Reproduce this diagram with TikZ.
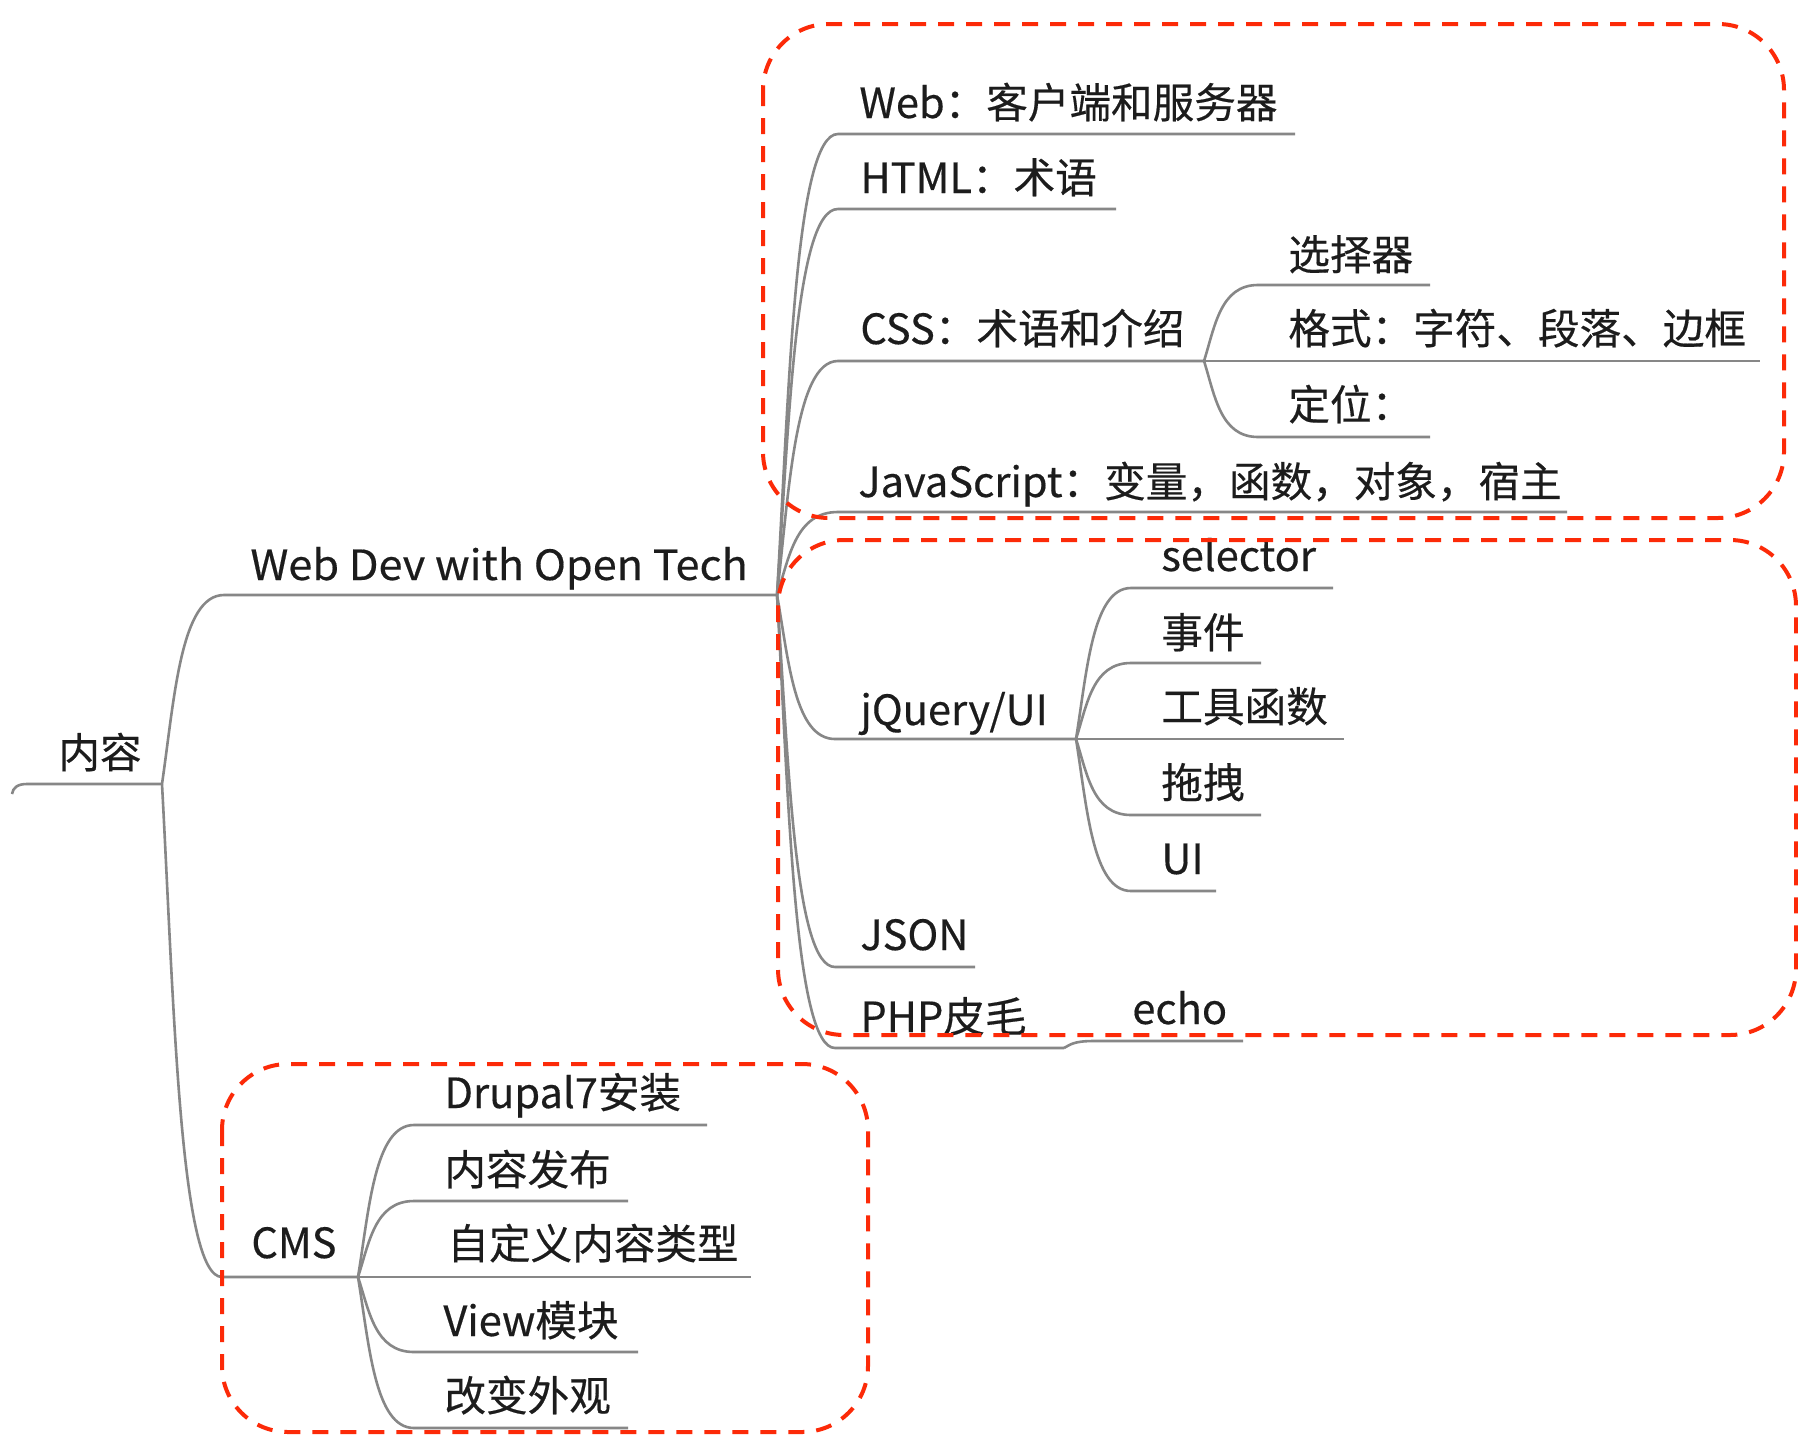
\documentclass[tikz,border=0pt]{standalone}
\usepackage{fontspec}
\setmainfont{Noto Sans CJK SC}[RawFeature={embolden=0.4}]
\usetikzlibrary{calc}
\definecolor{dashred}{RGB}{252,42,8}
\definecolor{linegray}{RGB}{135,135,135}
\definecolor{txtc}{RGB}{28,28,28}
\newcommand\brch[3]{\draw[branch] let \p1=(#1),\p2=(#2) in (\p1) .. controls ({\x1+0.2*(\x2-\x1)},{\y1+0.45*(\y2-\y1)}) and ({\x1+0.3*(\x2-\x1)},{\y2}) .. (\p2) -- (#3);}
\begin{document}
\begin{tikzpicture}[x=0.5pt,y=-0.5pt,
  branch/.style={draw=linegray, line width=1.3pt},
  txt/.style={anchor=base west, inner sep=0pt, text=txtc, font=\fontsize{20.8pt}{24pt}\selectfont},
  grp/.style={draw=dashred, line width=2pt, dash pattern=on 8pt off 6pt, rounded corners=33pt}]
\fill[white] (0,0) rectangle (1798,1440);
\useasboundingbox (0,0) rectangle (1798,1440);

% joints
\coordinate (j0) at (162,784);
\coordinate (j1) at (777,595);
\coordinate (j2) at (1204,361);
\coordinate (j3) at (1076,739);
\coordinate (j4) at (1064,1048);
\coordinate (j5) at (358,1277);

% line start / end points
\coordinate (rootA) at (12,794);
\coordinate (wdS) at (224,595);
\coordinate (cmsS) at (222,1277);
\coordinate (webS) at (838,134);   \coordinate (webE) at (1295,134);
\coordinate (htmlS) at (838,209);  \coordinate (htmlE) at (1116,209);
\coordinate (cssS) at (838,361);
\coordinate (selS) at (1258,285);  \coordinate (selE) at (1430,285);
\coordinate (fmtE) at (1760,361);
\coordinate (posS) at (1258,437);  \coordinate (posE) at (1430,437);
\coordinate (jsS) at (838,512);    \coordinate (jsE) at (1567,512);
\coordinate (jqS) at (835,739);
\coordinate (slcS) at (1131,588);  \coordinate (slcE) at (1333,588);
\coordinate (evS) at (1131,663);   \coordinate (evE) at (1261,663);
\coordinate (toolE) at (1344,739);
\coordinate (dragS) at (1131,815); \coordinate (dragE) at (1261,815);
\coordinate (uiS) at (1131,891);   \coordinate (uiE) at (1216,891);
\coordinate (jsonS) at (835,967);  \coordinate (jsonE) at (975,967);
\coordinate (phpS) at (835,1048);
\coordinate (echoS) at (1094,1041); \coordinate (echoE) at (1243,1041);
\coordinate (drS) at (414,1125);   \coordinate (drE) at (707,1125);
\coordinate (pubS) at (414,1201);  \coordinate (pubE) at (628,1201);
\coordinate (ctE) at (751,1277);
\coordinate (viewS) at (414,1352); \coordinate (viewE) at (638,1352);
\coordinate (lookS) at (414,1428); \coordinate (lookE) at (628,1428);

% connectors
\draw[branch] (rootA) .. controls (13,788) and (17,784) .. (27,784) -- (j0);
\brch{j0}{wdS}{j1}
\brch{j0}{cmsS}{j5}
\brch{j1}{webS}{webE}
\brch{j1}{htmlS}{htmlE}
\brch{j1}{cssS}{j2}
\brch{j2}{selS}{selE}
\draw[branch] (j2) -- (fmtE);
\brch{j2}{posS}{posE}
\brch{j1}{jsS}{jsE}
\brch{j1}{jqS}{j3}
\brch{j3}{slcS}{slcE}
\brch{j3}{evS}{evE}
\draw[branch] (j3) -- (toolE);
\brch{j3}{dragS}{dragE}
\brch{j3}{uiS}{uiE}
\brch{j1}{jsonS}{jsonE}
\brch{j1}{phpS}{j4}
\brch{j4}{echoS}{echoE}
\brch{j5}{drS}{drE}
\brch{j5}{pubS}{pubE}
\draw[branch] (j5) -- (ctE);
\brch{j5}{viewS}{viewE}
\brch{j5}{lookS}{lookE}

% texts
\node[txt] (tRoot) at (58,768) {内容};
\node[txt, xscale=1.04] (tWD) at (250,580) {Web Dev with Open Tech};
\node[txt] (tWeb) at (859,118) {Web：客户端和服务器};
\node[txt] (tHTML) at (860,193) {HTML：术语};
\node[txt] (tCSS) at (860,344) {CSS：术语和介绍};
\node[txt] (tSel) at (1288,270) {选择器};
\node[txt] (tFmt) at (1288,344) {格式：字符、段落、边框};
\node[txt] (tPos) at (1288,420) {定位：};
\node[txt] (tJS) at (858,497) {JavaScript：变量，函数，对象，宿主};
\node[txt] (tSlc) at (1161,571) {selector};
\node[txt] (tEv) at (1161,648) {事件};
\node[txt] (tJQ) at (860,725) {jQuery/UI};
\node[txt] (tTool) at (1161,722) {工具函数};
\node[txt] (tDrag) at (1161,798) {拖拽};
\node[txt] (tUI) at (1161,874) {UI};
\node[txt] (tJSON) at (860,950) {JSON};
\node[txt] (tPHP) at (860,1032) {PHP皮毛};
\node[txt] (tEcho) at (1132,1024) {echo};
\node[txt] (tCMS) at (251,1258) {CMS};
\node[txt] (tDr) at (444,1108) {Drupal7安装};
\node[txt] (tPub) at (444,1185) {内容发布};
\node[txt] (tCT) at (447,1259) {自定义内容类型};
\node[txt] (tView) at (443,1336) {View模块};
\node[txt] (tLook) at (444,1411) {改变外观};

% dashed groups
\draw[grp] (763,24) rectangle (1784,518);
\draw[grp] (778,540) rectangle (1796,1035);
\draw[grp] (222,1064) rectangle (868,1432);
\end{tikzpicture}
\end{document}
